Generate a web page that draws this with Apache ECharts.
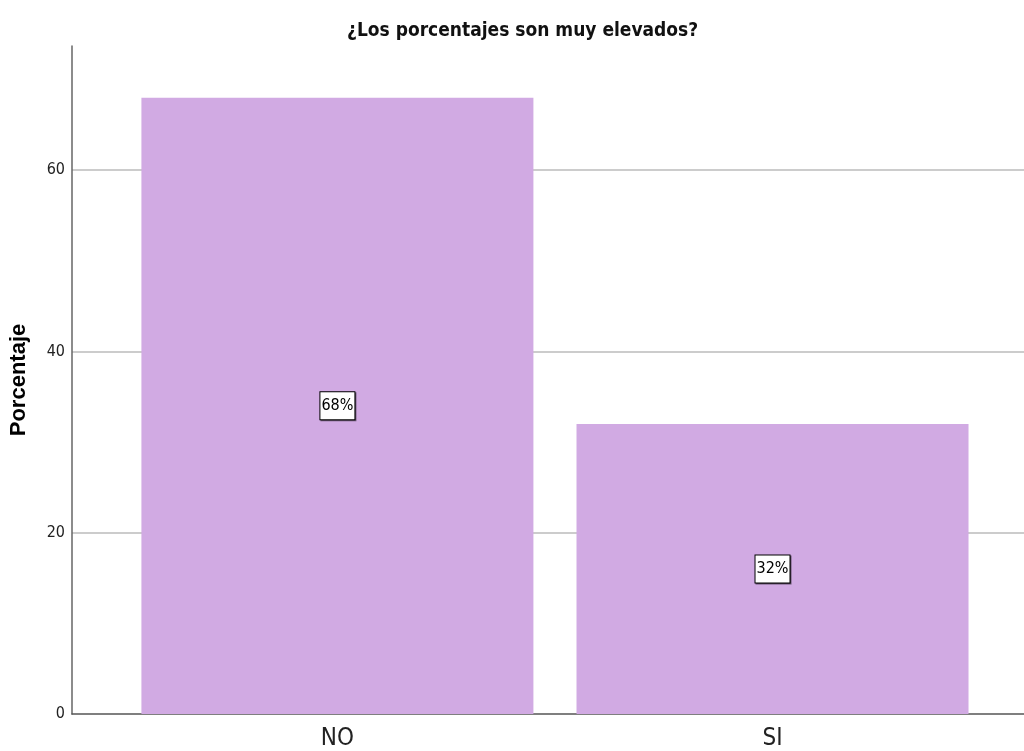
<!DOCTYPE html>
<html><head><meta charset="utf-8">
<script src="https://cdn.jsdelivr.net/npm/echarts@6/dist/echarts.min.js"></script>
<style>html,body{margin:0;padding:0;background:#fff}#c{width:1024px;height:751px}</style>
</head><body><div id="c"></div>
<script>
const categories = ['NO', 'SI'];
const percentages = [68, 32];
const yTicks = [0, 20, 40, 60];

const chart = echarts.init(document.getElementById('c'));
const narrow = '"Liberation Sans Narrow", "DejaVu Sans Condensed", sans-serif';
chart.setOption({
  animation: false,
  title: {
    text: '¿Los porcentajes son muy elevados?',
    left: 342, top: 17,
    textStyle: { fontFamily: narrow, fontSize: 19, fontWeight: 'bold', color: '#111' }
  },
  grid: { left: 69, right: 0, top: 46, bottom: 37 },
  xAxis: {
    type: 'value', min: -0.61, max: 1.578,
    axisLine: { show: true, onZero: false, lineStyle: { color: '#555', width: 1.5 } },
    axisTick: { show: false },
    splitLine: { show: false },
    axisLabel: {
      customValues: categories.map((c, i) => i),
      formatter: v => categories[Math.round(v)],
      fontFamily: narrow, fontSize: 24, color: '#222', margin: 13
    }
  },
  yAxis: {
    type: 'value', min: 0, max: 73.7, interval: 20,
    name: 'Porcentaje', nameLocation: 'middle', nameGap: 42, nameRotate: 90,
    nameTextStyle: { fontFamily: '"Liberation Sans", Arial, sans-serif', fontWeight: 'bold', fontSize: 22, color: '#000' },
    axisLine: { show: true, onZero: false, lineStyle: { color: '#666', width: 1.5 } },
    axisTick: { show: false },
    splitLine: { show: true, showMinLine: false, showMaxLine: false, lineStyle: { color: '#bbb', width: 1.5 } },
    axisLabel: {
      customValues: yTicks,
      fontFamily: narrow, fontSize: 16, color: '#222', margin: 7
    }
  },
  series: [{
    type: 'bar',
    data: percentages.map((v, i) => [i, v]),
    barWidth: 392,
    itemStyle: { color: '#d1aae3' },
    label: {
      show: true, position: 'inside',
      formatter: p => p.value[1] + '%',
      fontFamily: narrow, fontSize: 16, color: '#000',
      backgroundColor: '#fff', borderColor: '#000', borderWidth: 1,
      padding: [6, 1, 5, 1],
      shadowColor: 'rgba(0,0,0,0.5)', shadowOffsetX: 1, shadowOffsetY: 1
    }
  }]
});
</script></body></html>
